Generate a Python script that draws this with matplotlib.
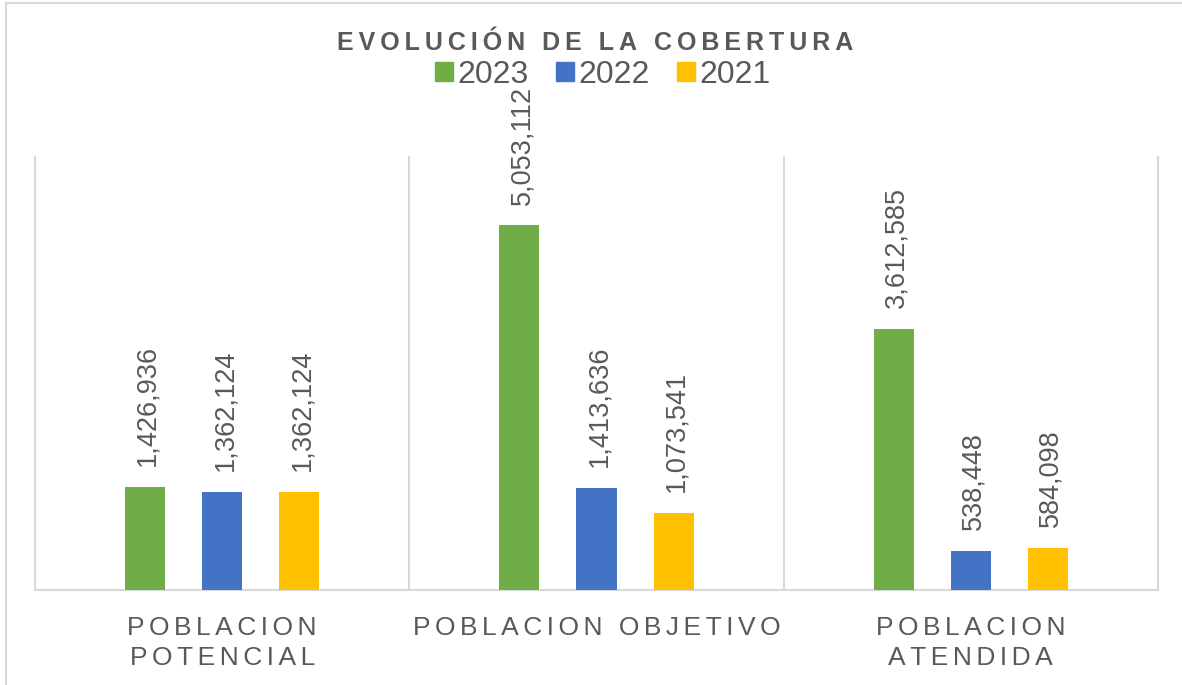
import matplotlib
matplotlib.use("Agg")
import matplotlib.pyplot as plt
from matplotlib.patches import Rectangle, Patch
import numpy as np

categories = ["POBLACION\nPOTENCIAL", "POBLACION OBJETIVO", "POBLACION\nATENDIDA"]
years = ["2023", "2022", "2021"]
values_2023 = [1426936, 5053112, 3612585]
values_2022 = [1362124, 1413636, 538448]
values_2021 = [1362124, 1073541, 584098]
colors = ["#70AD47", "#4472C4", "#FFC000"]

plt.rcParams['font.family'] = ['Liberation Sans', 'DejaVu Sans']
GRAY = "#595959"
LINE = "#D9D9D9"

HAIR = "\u200a"
THIN = "\u2009"


def spaced(s, gap):
    # fake letter spacing (Excel-style) by putting thin/hair spaces between chars
    return "\n".join(gap.join(line) for line in s.split("\n"))


fig = plt.figure(figsize=(11.82, 6.85), dpi=100)
ax = fig.add_axes([35 / 1182, 95 / 685, 1123 / 1182, 433 / 685])

x = np.arange(len(categories))
width = 0.107
offsets = [-0.206, 0.0, 0.206]
series = [values_2023, values_2022, values_2021]

for vals, off, col, yr in zip(series, offsets, colors, years):
    bars = ax.bar(x + off, vals, width, color=col, label=yr, zorder=3)
    for b, v in zip(bars, vals):
        ax.annotate(f"{v:,}", (b.get_x() + b.get_width() / 2, b.get_height()),
                    xytext=(2, 15), textcoords="offset points",
                    rotation=90, ha="center", va="bottom",
                    fontsize=19.5, color=GRAY)

ax.set_xlim(-0.5, 2.5)
ax.set_ylim(0, 6000000)
ax.set_yticks([])
ax.set_xticks(x)
ax.set_xticklabels([spaced(c, HAIR + HAIR) for c in categories],
                   fontsize=19, color=GRAY, linespacing=1.3)
ax.tick_params(axis="x", length=0, pad=19)

for s in ["top", "left", "right"]:
    ax.spines[s].set_visible(False)
ax.spines["bottom"].set_color(LINE)
ax.spines["bottom"].set_linewidth(1.5)

# category separators
for xv in [-0.5, 0.5, 1.5, 2.5]:
    ax.axvline(xv, color=LINE, lw=1.5, zorder=1, clip_on=False)

fig.text(595 / 1182, 1 - 43 / 685, spaced("EVOLUCIÓN DE LA COBERTURA", THIN),
         ha="center", va="center", fontsize=18, fontweight="bold", color=GRAY)

handles = [Patch(color=c) for c in colors]
fig.legend(handles, years, loc="center", bbox_to_anchor=(603 / 1182, 1 - 75 / 685),
           ncol=3, frameon=False, fontsize=23, handlelength=0.55, handleheight=0.55,
           handletextpad=0.15, columnspacing=0.85, labelcolor=GRAY)

# outer chart border
fig.patches.append(Rectangle((6 / 1182, -0.1), 1.2, 1.1 - 3 / 685,
                             transform=fig.transFigure, fill=False,
                             edgecolor=LINE, lw=1.5))

fig.savefig("out.png", dpi=100)
